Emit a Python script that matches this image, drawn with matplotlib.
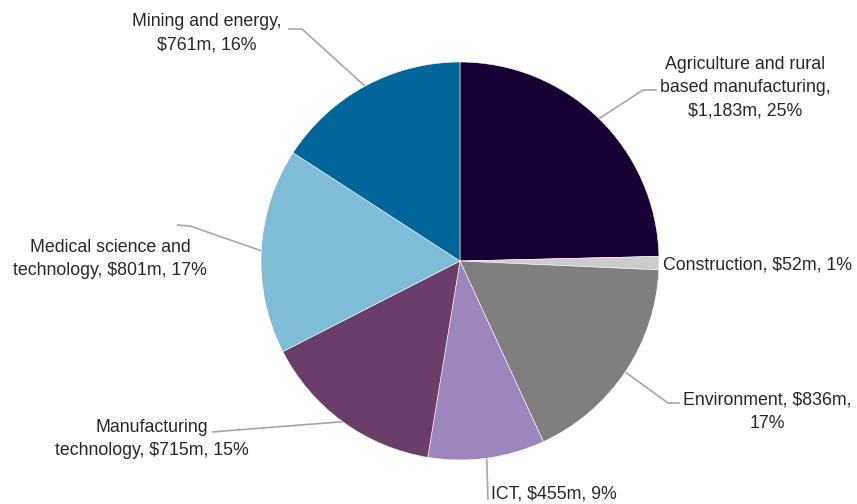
import numpy as np
import matplotlib
matplotlib.use("Agg")
import matplotlib.pyplot as plt

categories = ["Agriculture and rural based manufacturing", "Construction", "Environment",
              "ICT", "Manufacturing technology", "Medical science and technology",
              "Mining and energy"]
values = [1183, 52, 836, 455, 715, 801, 761]
pcts = [25, 1, 17, 9, 15, 17, 16]
labels = [
    "Agriculture and rural\nbased manufacturing,\n$1,183m, 25%",
    "Construction, $52m, 1%",
    "Environment, $836m,\n17%",
    "ICT, $455m, 9%",
    "Manufacturing\ntechnology, $715m, 15%",
    "Medical science and\ntechnology, $801m, 17%",
    "Mining and energy,\n$761m, 16%",
]
colors = ["#170033", "#cccccc", "#7f7f7f", "#9d86bd", "#6b3e69", "#7ebcd8", "#00669a"]

W, H = 857, 504
fig = plt.figure(figsize=(W / 100, H / 100), dpi=100)
ax = fig.add_axes([0, 0, 1, 1])

cx, cy, R = 460, H - 261, 199
wedges, _ = ax.pie(values, colors=colors, startangle=90, counterclock=False,
                   center=(cx, cy), radius=R,
                   wedgeprops=dict(edgecolor="white", linewidth=0.4))
ax.set_xlim(0, W)
ax.set_ylim(0, H)
ax.set_aspect("auto")
ax.axis("off")

# label layout: (text x, text y from top, ha, leader path points from top coords)
layout = [
    (745, 88, "center", [(643, 90), (657, 90)]),
    (663, 265, "left", None),
    (767, 412, "center", [(668, 403), (680, 403)]),
    (491, 494, "left", [(488, 500)]),
    (152, 439, "center", [(224, 431), (212, 432)]),
    (110, 259, "center", [(190, 226), (177, 225)]),
    (207, 33, "center", [(302, 29), (288, 29)]),
]

font = dict(family=["Liberation Sans", "DejaVu Sans"], size=12.8, color="#262626")
for w, lab, (tx, ty, ha, path) in zip(wedges, labels, layout):
    ax.text(tx, H - ty, lab, ha=ha, va="center", multialignment="center",
            linespacing=1.48, **font)
    if path:
        mid = np.deg2rad((w.theta1 + w.theta2) / 2)
        ax_ = cx + R * np.cos(mid)
        ay_ = cy + R * np.sin(mid)
        xs = [ax_] + [p[0] for p in path]
        ys = [ay_] + [H - p[1] for p in path]
        ax.plot(xs, ys, color="#a6a6a6", lw=1.2, solid_capstyle="butt", zorder=0)

fig.savefig("out.png", dpi=100, facecolor="white")
